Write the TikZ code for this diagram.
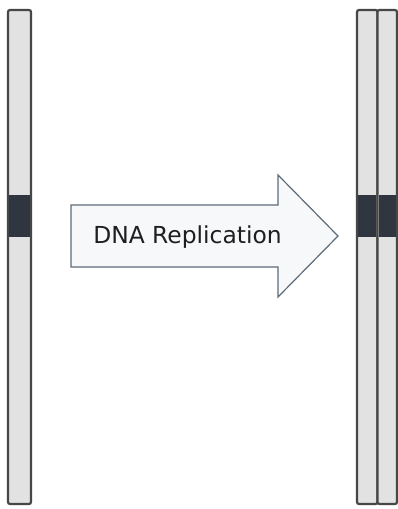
\documentclass[tikz,border=0pt]{standalone}
\usepackage{fontspec}
\setmainfont{DejaVu Sans}
\definecolor{chromfill}{HTML}{E2E2E2}
\definecolor{chromline}{HTML}{474747}
\definecolor{bandfill}{HTML}{2F3640}
\definecolor{arrowfill}{HTML}{F6F8FA}
\definecolor{arrowline}{HTML}{5E6C7A}
\begin{document}
\begin{tikzpicture}[x=1pt,y=-1pt,
  chromatid/.style={draw=chromline,fill=chromfill,line width=2.2pt,rounded corners=2pt,
    minimum height=494pt,inner sep=0pt,outer sep=0pt},
  centromere/.style={fill=bandfill,minimum height=42pt,inner sep=0pt,outer sep=0pt},
  label/.style={font=\fontsize{23.4}{27}\selectfont,text=black!88}]
\useasboundingbox[fill=white] (0,0) rectangle (398,509);
% single chromosome before replication
\node[chromatid,minimum width=23pt] (c0) at (19.5,257) {};
\node[centromere,minimum width=20.8pt] (b0) at (19.5,216) {};
% sister chromatids after replication
\node[chromatid,minimum width=20.5pt] (c1) at (367.25,257) {};
\node[chromatid,minimum width=19.5pt] (c2) at (387.25,257) {};
\node[centromere,minimum width=18.3pt] (b1) at (367.25,216) {};
\node[centromere,minimum width=17.3pt] (b2) at (387.25,216) {};
% process arrow
\draw[draw=arrowline,fill=arrowfill,line width=1.2pt,line join=miter]
  (71,205) -- (278,205) -- (278,175) -- (338,236) -- (278,297) -- (278,267) -- (71,267) -- cycle;
\node[label] (lbl) at (187.5,237) {DNA Replication};
\end{tikzpicture}
\end{document}
